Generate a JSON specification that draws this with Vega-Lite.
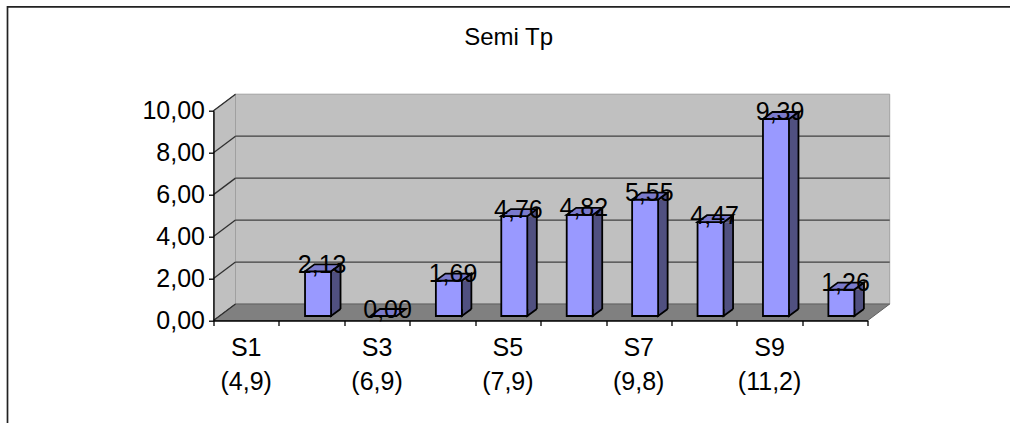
{
"$schema":"https://vega.github.io/schema/vega-lite/v6.json",
"width":654.2,"height":209.8,
"autosize":"none",
"padding":{"left":213.5,"top":110.7,"right":142.3,"bottom":102.5},
"background":"white",
"config":{"view":{"stroke":null},"font":"Liberation Sans"},
"title":{"text":"Semi Tp","frame":"group","dx":-32,"offset":0,"dy":66,"baseline":"alphabetic","fontWeight":"normal","fontSize":24,"font":"Liberation Sans","color":"#000000"},
"data":{"values":[
{"cat":"S1","sub":"(4,9)","value":null,"label":null},
{"cat":"S2","sub":null,"value":2.13,"label":"2,13"},
{"cat":"S3","sub":"(6,9)","value":0.0,"label":"0,00"},
{"cat":"S4","sub":null,"value":1.69,"label":"1,69"},
{"cat":"S5","sub":"(7,9)","value":4.76,"label":"4,76"},
{"cat":"S6","sub":null,"value":4.82,"label":"4,82"},
{"cat":"S7","sub":"(9,8)","value":5.55,"label":"5,55"},
{"cat":"S8","sub":null,"value":4.47,"label":"4,47"},
{"cat":"S9","sub":"(11,2)","value":9.39,"label":"9,39"},
{"cat":"S10","sub":null,"value":1.26,"label":"1,26"}
]},
"resolve":{"scale":{"x":"independent"},"axis":{"x":"independent"}},
"layer":[
{"data":{"values":[{"tick":0},{"tick":2},{"tick":4},{"tick":6},{"tick":8},{"tick":10}]},
 "layer":[
 {"transform":[{"filter":"datum.tick==0"}],
  "mark":{"type":"point","filled":true,"size":4,"opacity":1,"clip":false,"shape":"M-206 102.5L-206 -313.7L797 -313.7","fill":null,"fillOpacity":0,"stroke":"#222222","strokeWidth":1.7},
  "encoding":{"x":{"field":"tick","type":"quantitative","scale":{"domain":[0,10],"nice":false,"zero":false},"axis":null},"y":{"field":"tick","type":"quantitative"}}},
 {"transform":[{"filter":"datum.tick==0"}],
  "mark":{"type":"point","filled":true,"size":4,"opacity":1,"shape":"M0 0L22 -16.5L22 -226.3L0 -209.8Z","fill":"#c0c0c0","stroke":"#808080","strokeWidth":1},
  "encoding":{"x":{"field":"tick","type":"quantitative"},"y":{"field":"tick","type":"quantitative"}}},
 {"transform":[{"filter":"datum.tick==0"}],
  "mark":{"type":"rect","fill":"#c0c0c0","stroke":"#a0a0a0","strokeWidth":1,"xOffset":22,"x2Offset":22,"yOffset":-16.5,"y2Offset":-16.5},
  "encoding":{"x":{"datum":0,"type":"quantitative"},"x2":{"datum":10},"y":{"datum":0,"type":"quantitative"},"y2":{"datum":10}}},
 {"transform":[{"filter":"datum.tick==0"}],
  "mark":{"type":"point","filled":true,"size":4,"opacity":1,"shape":"M0 0L22 -16.5L676.2 -16.5L654.2 0Z","fill":"#808080","stroke":"#606060","strokeWidth":1},
  "encoding":{"x":{"field":"tick","type":"quantitative"},"y":{"field":"tick","type":"quantitative"}}},
 {"transform":[{"filter":"datum.tick>0 && datum.tick<10"}],
  "mark":{"type":"rule","color":"#404040","strokeWidth":1.3,"xOffset":22,"x2Offset":22,"yOffset":-16.5},
  "encoding":{"x":{"datum":0,"type":"quantitative"},"x2":{"datum":10},"y":{"field":"tick","type":"quantitative"}}},
 {"mark":{"type":"rule","color":"#303030","strokeWidth":1.3,"x2Offset":22,"y2Offset":-16.5},
  "encoding":{"x":{"datum":0,"type":"quantitative"},"x2":{"datum":0},"y":{"field":"tick","type":"quantitative"},"y2":{"field":"tick"}}}
 ]},
{"layer":[
 {"transform":[{"filter":"datum.value>0"}],
  "mark":{"type":"bar","color":"#505080","width":9.5,"xOffset":24.15,"yOffset":-4.5,"y2Offset":-11.5},
  "encoding":{
   "x":{"field":"cat","type":"nominal","sort":null,"scale":{"domain":["S1","S2","S3","S4","S5","S6","S7","S8","S9","S10"],"paddingInner":0,"paddingOuter":0},
     "axis":{"orient":"bottom","labels":false,"title":null,"tickBand":"extent","tickSize":5,"tickColor":"#000000","domainColor":"#000000","domainWidth":1.3,"tickWidth":1.3,"grid":false,"zindex":1}},
   "y":{"field":"value","type":"quantitative","scale":{"domain":[0,10],"nice":false},
     "axis":{"title":null,"values":[0,2,4,6,8,10],"labelExpr":"replace(format(datum.value,'.2f'),'.',',')","labelFontSize":25,"labelFont":"Liberation Sans","labelColor":"#000000","tickColor":"#000000","domainColor":"#000000","domainWidth":1.3,"tickWidth":1.3,"tickSize":5,"grid":false,"labelPadding":4,"zindex":1}},
   "y2":{"datum":0}}},
 {"transform":[{"filter":"datum.value>0"}],
  "mark":{"type":"point","filled":true,"size":4,"opacity":1,"shape":"M19.4 -4.5L28.9 -11.5L28.9 -4.5","fill":"#505080","stroke":"#000000","strokeWidth":1.8},
  "encoding":{"x":{"field":"cat","type":"nominal"},"y":{"field":"value","type":"quantitative"}}},
 {"transform":[{"filter":"datum.value>0"}],
  "mark":{"type":"point","filled":true,"size":4,"opacity":1,"shape":"M19.4 -11.5L19.4 -4.5L28.9 -11.5","fill":"#505080","stroke":"#000000","strokeWidth":1.8},
  "encoding":{"x":{"field":"cat","type":"nominal"},"y":{"datum":0,"type":"quantitative"}}},
 {"transform":[{"filter":"datum.value>0"}],
  "mark":{"type":"rule","color":"#000000","strokeWidth":1.8,"xOffset":28.9,"yOffset":-11.5,"y2Offset":-11.5},
  "encoding":{"x":{"field":"cat","type":"nominal"},"y":{"field":"value","type":"quantitative"},"y2":{"datum":0}}},
 {"transform":[{"filter":"datum.value>0"}],
  "mark":{"type":"bar","color":"#9999ff","stroke":"#000000","strokeWidth":1.8,"width":26,"xOffset":6.4,"yOffset":-4.5,"y2Offset":-4.5},
  "encoding":{"x":{"field":"cat","type":"nominal"},"y":{"field":"value","type":"quantitative"},"y2":{"datum":0}}},
 {"transform":[{"filter":"isValid(datum.value)"}],
  "mark":{"type":"point","filled":true,"size":4,"opacity":1,"shape":"M-6.6 -4.5L19.4 -4.5L28.9 -11.5L2.9 -11.5Z","fill":"#7a7acc","stroke":"#000000","strokeWidth":1.8},
  "encoding":{"x":{"field":"cat","type":"nominal"},"y":{"field":"value","type":"quantitative"}}},
 {"transform":[{"filter":"isValid(datum.value)"}],
  "mark":{"type":"text","fontSize":25,"font":"Liberation Sans","color":"#000000","align":"center","baseline":"alphabetic","xOffset":10.5,"yOffset":-3},
  "encoding":{"x":{"field":"cat","type":"nominal"},"y":{"field":"value","type":"quantitative"},"text":{"field":"label"}}},
 {"transform":[{"filter":"isValid(datum.sub)"}],
  "mark":{"type":"text","fontSize":25,"font":"Liberation Sans","color":"#000000","align":"center","baseline":"alphabetic","yOffset":35.5},
  "encoding":{"x":{"field":"cat","type":"nominal"},"y":{"datum":0,"type":"quantitative"},"text":{"field":"cat"}}},
 {"transform":[{"filter":"isValid(datum.sub)"}],
  "mark":{"type":"text","fontSize":25,"font":"Liberation Sans","color":"#000000","align":"center","baseline":"alphabetic","yOffset":69},
  "encoding":{"x":{"field":"cat","type":"nominal"},"y":{"datum":0,"type":"quantitative"},"text":{"field":"sub"}}}
]}
]
}
